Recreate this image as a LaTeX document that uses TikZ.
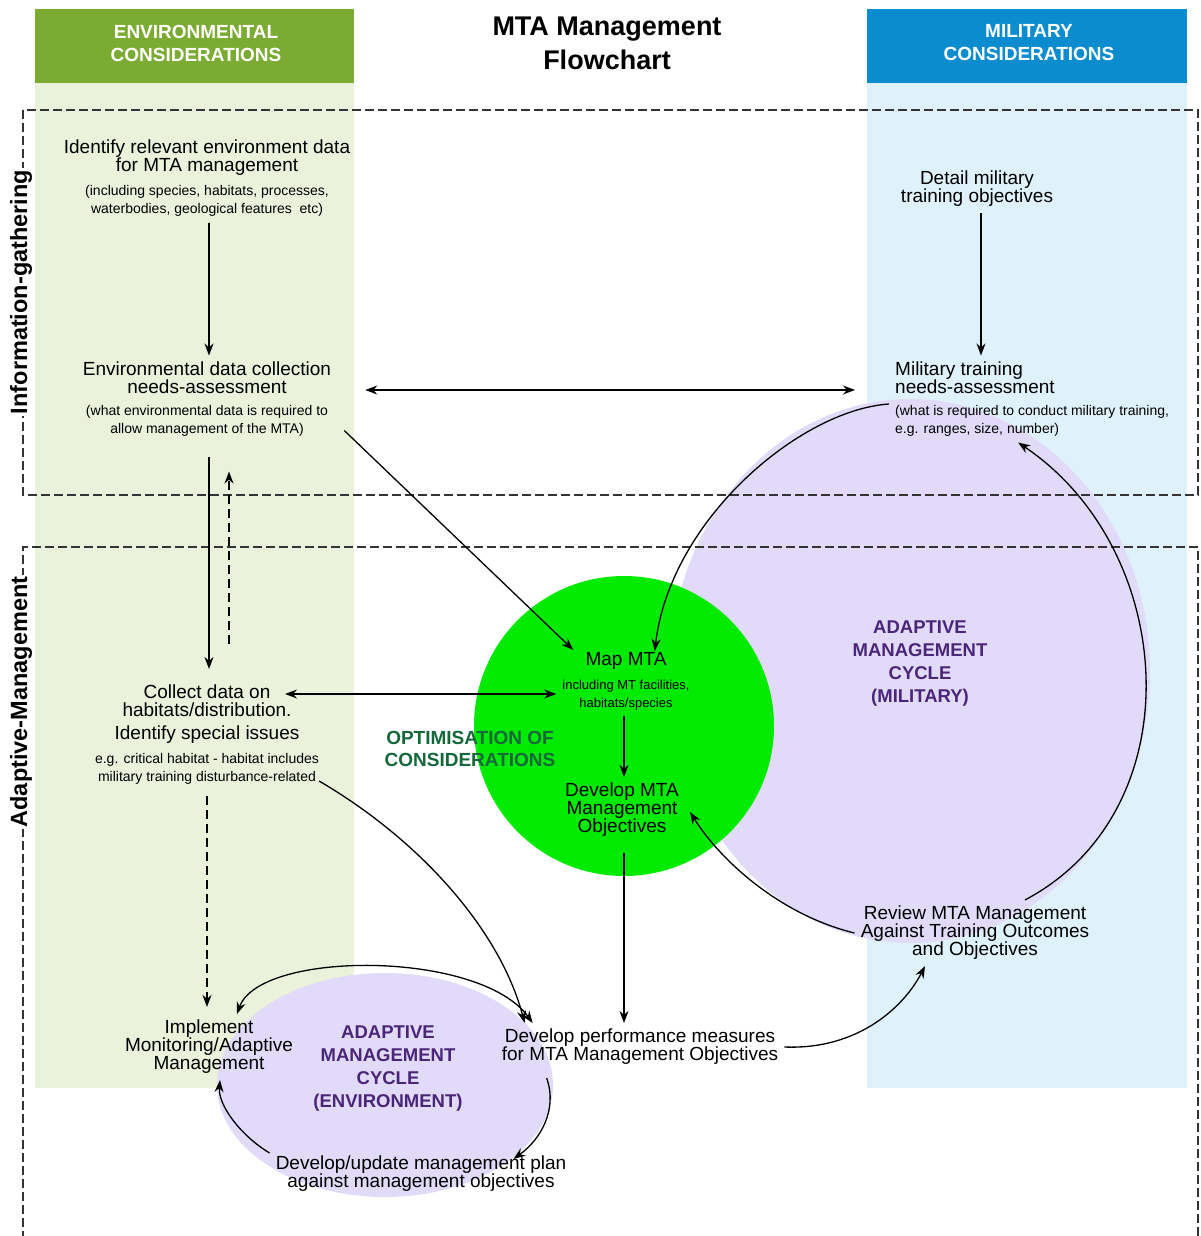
\documentclass[tikz,border=0pt]{standalone}
\usepackage{fontspec}
\setmainfont{Liberation Sans}
\usetikzlibrary{arrows, arrows.meta}
\usetikzlibrary{calc}

\definecolor{envdark}{RGB}{123,171,51}
\definecolor{envlight}{RGB}{234,242,220}
\definecolor{mildark}{RGB}{10,140,207}
\definecolor{millight}{RGB}{223,242,252}
\definecolor{cyclefill}{RGB}{225,219,249}
\definecolor{optimfill}{RGB}{0,235,0}
\definecolor{optimtext}{RGB}{22,104,58}
\definecolor{cycletext}{RGB}{74,38,120}

\newcommand\mainsize{\fontsize{19}{18}\selectfont}
\newcommand\notesize{\fontsize{14}{18}\selectfont}
\newcommand\mapsize{\fontsize{13}{18}\selectfont}
\newcommand\capsize{\fontsize{19}{23}\selectfont\bfseries}

\begin{document}
\begin{tikzpicture}[x=1pt, y=-1pt,
    txt/.style={align=center, inner sep=6pt, font=\mainsize},
    header/.style={inner sep=0pt, text=white, font=\capsize, align=center},
    sidelabel/.style={rotate=90, fill=white, inner sep=2pt, font=\fontsize{23.5}{24}\selectfont\bfseries},
    cycletxt/.style={align=center, text=cycletext, font=\fontsize{18.5}{23}\selectfont\bfseries},
    optimtxt/.style={align=center, text=optimtext, font=\fontsize{19}{22}\selectfont\bfseries},
    boxline/.style={dash pattern=on 9pt off 4pt, line width=1.2pt, draw=black!80},
    arr/.style={-{Stealth[length=12pt,width=9pt]}, line width=1.3pt},
    arrtwo/.style={{Stealth[length=12pt,width=9pt]}-{Stealth[length=12pt,width=9pt]}, line width=1.3pt},
    dashedarr/.style={arr, dash pattern=on 9pt off 5pt}]
  \useasboundingbox (0,0) rectangle (1200,1236);

  \fill[envlight] (35,9) rectangle (354,1088);
  \fill[millight] (867,9) rectangle (1187,1088);
  \fill[envdark] (35,9) rectangle (354,83);
  \fill[mildark] (867,9) rectangle (1187,83);
  \node[header] (envhead) at (196,43) {ENVIRONMENTAL\\CONSIDERATIONS};
  \node[header] (milhead) at (1029,43) {MILITARY\\CONSIDERATIONS};

  \fill[cyclefill] (910,671) ellipse [x radius=240, y radius=272];
  \fill[cyclefill] (385,1085) ellipse [x radius=168, y radius=112];
  \fill[optimfill] (624,726) circle [radius=150];

  \draw[boxline] (23,110) rectangle (1198,495);
  \draw[boxline] (23,1240) -- (23,547) -- (1198,547) -- (1198,1240);
  \node[sidelabel] (infolabel) at (21,292) {Information-gathering};
  \node[sidelabel] (adaptlabel) at (21,702) {Adaptive-Management};

  \node[align=center, font=\fontsize{27}{34}\selectfont\bfseries] (title) at (607,43) {MTA Management\\Flowchart};

  \node[txt] (envid) at (207,178) {Identify relevant environment data\\for MTA management\\[6pt]{\notesize (including species, habitats, processes,}\\{\notesize waterbodies, geological features\ \ etc)}};
  \node[txt] (envneed) at (207,399) {Environmental data collection\\needs-assessment\\[4pt]{\notesize (what environmental data is required to}\\{\notesize allow management of the MTA)}};
  \node[txt] (miltrain) at (977,189) {Detail military\\training objectives};
  \node[txt, align=left, anchor=west] (milneed) at (889,399) {Military training\\needs-assessment\\[4pt]{\notesize (what is required to conduct military training,}\\{\notesize e.g. ranges, size, number)}};
  \node[txt] (collect) at (207,735) {Collect data on\\habitats/distribution.\\[5pt]Identify special issues\\[6pt]{\notesize e.g. critical habitat - habitat includes}\\{\notesize military training disturbance-related}};
  \node[txt] (mapmta) at (626,681) {Map MTA\\[6pt]{\mapsize including MT facilities,}\\{\mapsize habitats/species}};
  \node[txt] (devobj) at (622,810) {Develop MTA\\Management\\Objectives};
  \node[optimtxt] (optim) at (470,749) {OPTIMISATION OF\\CONSIDERATIONS};
  \node[cycletxt] (milcycle) at (920,664) {ADAPTIVE\\MANAGEMENT\\CYCLE\\(MILITARY)};
  \node[txt] (review) at (975,933) {Review MTA Management\\Against Training Outcomes\\and Objectives};
  \node[txt] (perf) at (640,1047) {Develop performance measures\\for MTA Management Objectives};
  \node[txt] (implement) at (209,1047) {Implement\\Monitoring/Adaptive\\Management};
  \node[cycletxt] (envcycle) at (388,1069) {ADAPTIVE\\MANAGEMENT\\CYCLE\\(ENVIRONMENT)};
  \node[txt] (plan) at (421,1174) {Develop/update management plan\\against management objectives};
  \coordinate (collectdata) at (285,694);

  % information-gathering
  \draw[arr] ([xshift=2pt]envid.south) -- ([xshift=2pt]envneed.north);
  \draw[arr] ([xshift=4pt]miltrain.south) -- ([xshift=4pt]miltrain.south |- milneed.north);
  \draw[arrtwo] ([xshift=28pt,yshift=9pt]envneed.east) -- ([xshift=-34pt,yshift=9pt]milneed.west);
  \draw[arr] ([xshift=7pt,yshift=12pt]envneed.south east) -- ([xshift=17pt,yshift=-4pt]mapmta.north west);
  \draw[arr] ([yshift=-5pt]milneed.west) .. controls (800,410) and (670,520) .. ([xshift=-41pt,yshift=-5pt]mapmta.north east);
  \draw[arr] ([xshift=50pt]review.north) .. controls (1195,810) and (1178,550) .. ([xshift=-14pt]milneed.south);
  \draw[arr, shorten <=14pt, shorten >=10pt] ([xshift=2pt]envneed.south) -- ([xshift=2pt]collect.north);
  \draw[dashedarr] ([xshift=22pt,yshift=35pt]collect.north) -- ([xshift=22pt,yshift=-29pt]envneed.south);

  % optimisation and cycles
  \draw[arrtwo] (collectdata) -- (mapmta.west |- collectdata);
  \draw[arr] ([xshift=-2pt]mapmta.south) -- ([xshift=-2pt]mapmta.south |- devobj.north);
  \draw[arr, shorten <=10pt] ([xshift=2pt]devobj.south) -- ([xshift=2pt]devobj.south |- perf.north);
  \draw[arr] (review.west) .. controls (780,915) and (720,860) .. ([xshift=5pt,yshift=-2pt]devobj.east);
  \draw[arr] (perf.east) .. controls (860,1050) and (905,1005) .. ([xshift=-50pt]review.south);
  \draw[arrtwo] ([xshift=28pt]implement.north) .. controls (260,950) and (480,950) .. ([xshift=37pt]perf.north west);
  \draw[arr] ([xshift=-6pt,yshift=10pt]collect.south east) .. controls (420,840) and (500,930) .. ([xshift=29pt]perf.north west);
  \draw[arr] ([xshift=51pt,yshift=-7pt]perf.south west) .. controls (558,1110) and (540,1140) .. ([xshift=-59pt,yshift=-9pt]plan.north east);
  \draw[arr] ([yshift=21pt]plan.west) .. controls (240,1135) and (218,1105) .. ([xshift=11pt]implement.south);
  \draw[dashedarr, shorten <=5pt, shorten >=7pt] (collect.south) -- (collect.south |- implement.north);
\end{tikzpicture}
\end{document}
